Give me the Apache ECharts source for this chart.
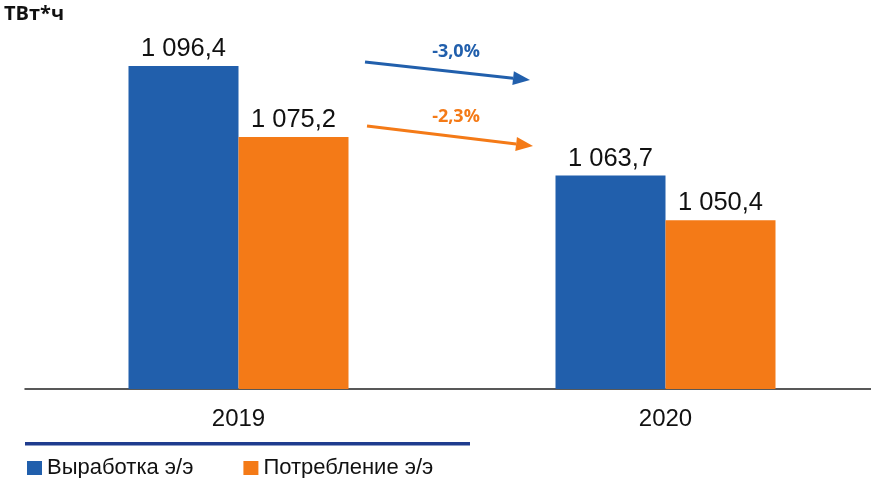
<!DOCTYPE html>
<html>
<head>
<meta charset="utf-8">
<script src="https://cdn.jsdelivr.net/npm/echarts@6/dist/echarts.min.js"></script>
<style>
  html, body { margin: 0; padding: 0; background: #fff; }
  #chart { width: 871px; height: 478px; }
</style>
</head>
<body>
<div id="chart"></div>
<script>
// данные
var years = ['2019', '2020'];
var generation = [1096.4, 1063.7];   // Выработка э/э
var consumption = [1075.2, 1050.4];  // Потребление э/э
var changeLabels = ['-3,0%', '-2,3%'];

var BLUE = '#215fac';
var ORANGE = '#f47a17';

function fmt(v) {
  // 1096.4 -> "1 096,4"
  var s = v.toFixed(1).replace('.', ',');
  var parts = s.split(',');
  var int = parts[0].replace(/\B(?=(\d{3})+(?!\d))/g, ' ');
  return int + ',' + parts[1];
}

// стрелка: линия + треугольник на конце
function arrow(x1, y1, x2, y2, color) {
  var a = Math.atan2(y2 - y1, x2 - x1);
  var len = 17, half = 7;
  var bx = x2 - len * Math.cos(a), by = y2 - len * Math.sin(a);
  var nx = -Math.sin(a), ny = Math.cos(a);
  return {
    type: 'group',
    children: [
      { type: 'line', shape: { x1: x1, y1: y1, x2: bx, y2: by }, style: { stroke: color, lineWidth: 3 } },
      { type: 'polygon', shape: { points: [[x2, y2], [bx + nx * half, by + ny * half], [bx - nx * half, by - ny * half]] }, style: { fill: color } }
    ]
  };
}

var labelStyle = {
  show: true,
  position: 'top',
  distance: 4,
  fontFamily: 'Liberation Sans',
  fontSize: 25.5,
  color: '#111',
  formatter: function (p) { return fmt(p.value); }
};

var myChart = echarts.init(document.getElementById('chart'));
myChart.setOption({
  animation: false,
  grid: { left: 25, width: 854, top: 54, bottom: 89, outerBoundsMode: 'none', containLabel: false },
  legend: {
    left: 22,
    top: 452,
    icon: 'rect',
    itemWidth: 15,
    itemHeight: 14,
    itemGap: 50,
    textStyle: { fontFamily: 'Liberation Sans', fontSize: 22, color: '#111' },
    data: ['Выработка э/э', 'Потребление э/э']
  },
  xAxis: {
    type: 'category',
    data: years,
    axisTick: { show: false },
    axisLine: { lineStyle: { color: '#222', width: 1.5 } },
    axisLabel: { fontFamily: 'Liberation Sans', fontSize: 24, color: '#111', margin: 18 }
  },
  yAxis: {
    type: 'value',
    min: 1000,
    max: 1100,
    show: false,
    splitLine: { show: false }
  },
  series: [
    {
      name: 'Выработка э/э',
      type: 'bar',
      barWidth: 110,
      barGap: '0%',
      itemStyle: { color: BLUE },
      label: labelStyle,
      data: generation
    },
    {
      name: 'Потребление э/э',
      type: 'bar',
      barWidth: 110,
      itemStyle: { color: ORANGE },
      label: labelStyle,
      data: consumption
    }
  ],
  graphic: [
    { type: 'text', left: 4, top: 4, style: { text: 'ТВт*ч', fontFamily: 'Open Sans', fontWeight: 'bold', fontSize: 20, fill: '#111' } },
    arrow(365, 62, 530, 80, BLUE),
    arrow(367, 126, 533, 146, ORANGE),
    { type: 'text', x: 456, y: 52, style: { text: changeLabels[0], align: 'center', verticalAlign: 'middle', fontFamily: 'Open Sans', fontWeight: 'bold', fontSize: 18, fill: BLUE } },
    { type: 'text', x: 456, y: 117, style: { text: changeLabels[1], align: 'center', verticalAlign: 'middle', fontFamily: 'Open Sans', fontWeight: 'bold', fontSize: 18, fill: ORANGE } },
    { type: 'rect', shape: { x: 25, y: 442, width: 445, height: 3.5 }, style: { fill: '#1f3c8e' } }
  ]
});
</script>
</body>
</html>
